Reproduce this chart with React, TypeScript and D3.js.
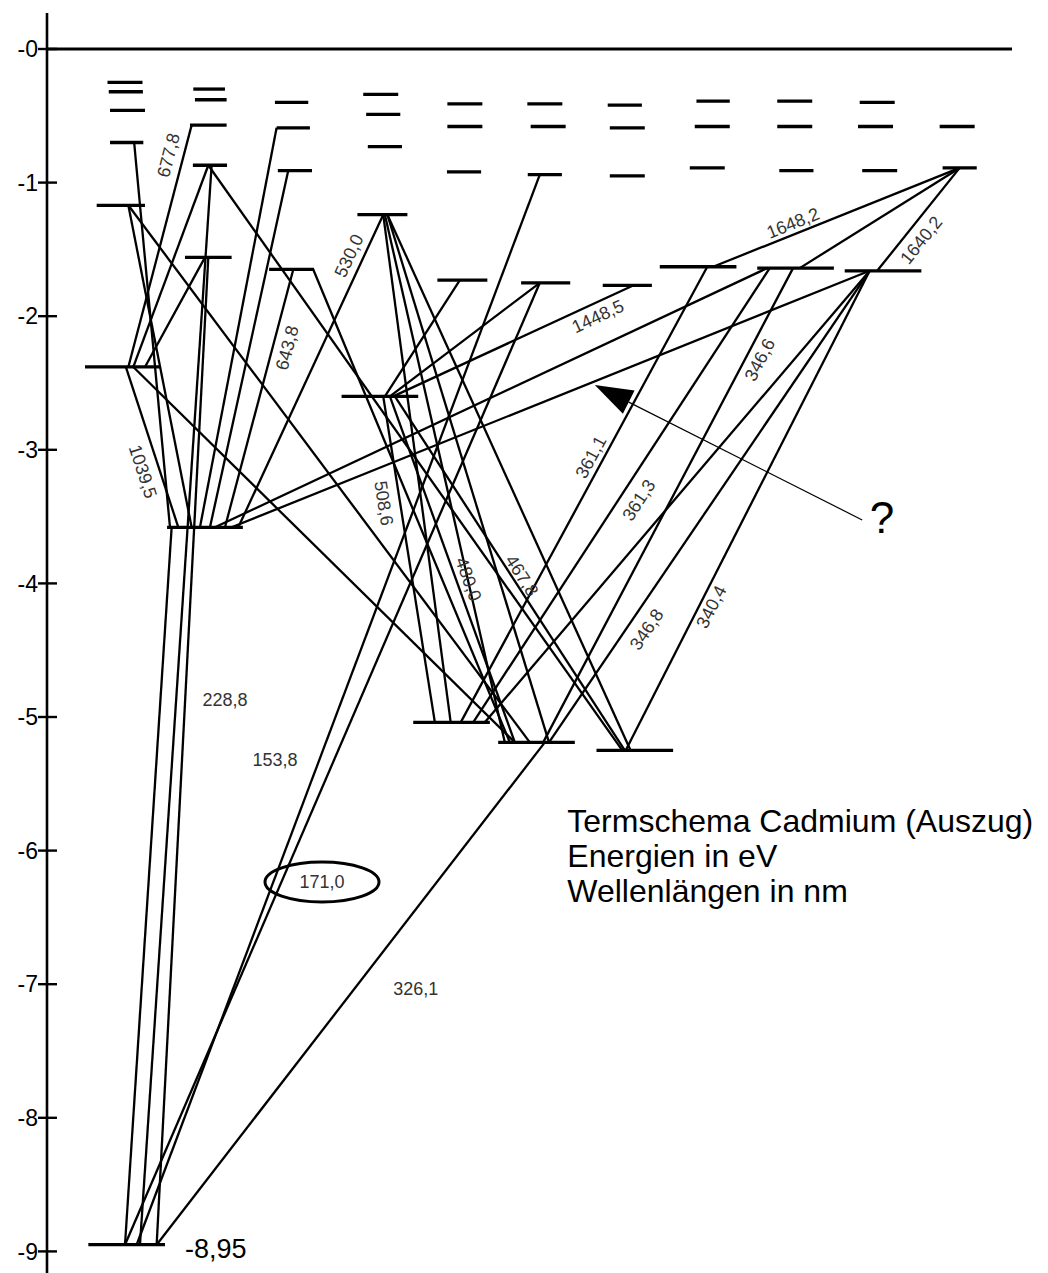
import React from 'react';
import * as d3 from 'd3';

// energy axis ticks
const tickValues = [0, -1, -2, -3, -4, -5, -6, -7, -8, -9];
const tickLabels = ['-0', '-1', '-2', '-3', '-4', '-5', '-6', '-7', '-8', '-9'];

// term levels: column position u (column units), width w (column units), energy e (eV)
const levels = [
  { id: 'a1', u: 0.0, w: 0.42, e: -0.25 },
  { id: 'a2', u: 0.01, w: 0.41, e: -0.32 },
  { id: 'a3', u: 0.03, w: 0.42, e: -0.46 },
  { id: 'a4', u: 0.02, w: 0.4, e: -0.7 },
  { id: 'a5', u: -0.05, w: 0.58, e: -1.17 },
  { id: 'a6', u: -0.03, w: 0.9, e: -2.38 },
  { id: 'b1', u: 1.01, w: 0.38, e: -0.3 },
  { id: 'b2', u: 1.03, w: 0.38, e: -0.38 },
  { id: 'b3', u: 1.0, w: 0.44, e: -0.57 },
  { id: 'b4', u: 1.02, w: 0.41, e: -0.87 },
  { id: 'b5', u: 1.0, w: 0.56, e: -1.56 },
  { id: 'b6', u: 0.96, w: 0.91, e: -3.58 },
  { id: 'c1', u: 2.0, w: 0.4, e: -0.4 },
  { id: 'c2', u: 2.02, w: 0.4, e: -0.59 },
  { id: 'c3', u: 2.04, w: 0.41, e: -0.91 },
  { id: 'c4', u: 2.0, w: 0.54, e: -1.65 },
  { id: 'd1', u: 3.07, w: 0.42, e: -0.34 },
  { id: 'd2', u: 3.1, w: 0.41, e: -0.49 },
  { id: 'd3', u: 3.12, w: 0.41, e: -0.73 },
  { id: 'd4', u: 3.09, w: 0.6, e: -1.24 },
  { id: 'd5', u: 3.06, w: 0.92, e: -2.6 },
  { id: 'e1', u: 4.08, w: 0.42, e: -0.41 },
  { id: 'e2', u: 4.08, w: 0.42, e: -0.58 },
  { id: 'e3', u: 4.07, w: 0.41, e: -0.92 },
  { id: 'e4', u: 4.05, w: 0.6, e: -1.73 },
  { id: 'e5', u: 3.92, w: 0.92, e: -5.04 },
  { id: 'f1', u: 5.04, w: 0.42, e: -0.41 },
  { id: 'f2', u: 5.08, w: 0.42, e: -0.58 },
  { id: 'f3', u: 5.04, w: 0.41, e: -0.94 },
  { id: 'f4', u: 5.05, w: 0.59, e: -1.75 },
  { id: 'f5', u: 4.94, w: 0.92, e: -5.19 },
  { id: 'g1', u: 6.0, w: 0.41, e: -0.42 },
  { id: 'g2', u: 6.03, w: 0.42, e: -0.59 },
  { id: 'g3', u: 6.03, w: 0.42, e: -0.95 },
  { id: 'g4', u: 6.03, w: 0.59, e: -1.77 },
  { id: 'g5', u: 6.12, w: 0.92, e: -5.25 },
  { id: 'h1', u: 7.06, w: 0.4, e: -0.39 },
  { id: 'h2', u: 7.05, w: 0.42, e: -0.58 },
  { id: 'h3', u: 6.99, w: 0.42, e: -0.89 },
  { id: 'h4', u: 6.88, w: 0.92, e: -1.63 },
  { id: 'i1', u: 8.04, w: 0.42, e: -0.39 },
  { id: 'i2', u: 8.04, w: 0.42, e: -0.58 },
  { id: 'i3', u: 8.06, w: 0.41, e: -0.91 },
  { id: 'i4', u: 8.05, w: 0.92, e: -1.64 },
  { id: 'j1', u: 9.03, w: 0.42, e: -0.4 },
  { id: 'j2', u: 9.01, w: 0.42, e: -0.58 },
  { id: 'j3', u: 9.06, w: 0.42, e: -0.91 },
  { id: 'j4', u: 9.1, w: 0.92, e: -1.66 },
  { id: 'k1', u: 9.99, w: 0.42, e: -0.58 },
  { id: 'k2', u: 10.02, w: 0.41, e: -0.89 },
  { id: 'g0', u: 0.02, w: 0.92, e: -8.95 },
];

// transitions: upper level, where the line leaves it (u1), lower level, where it lands (u2)
const transitions = [
  { id: 'l6778', from: 'b3', u1: 0.8, to: 'a6', u2: 0.04 },
  { id: 'b4a6', from: 'b4', u1: 1.0, to: 'a6', u2: 0.1 },
  { id: 'b5a6', from: 'b5', u1: 0.96, to: 'a6', u2: 0.24 },
  { id: 'l10395', from: 'a6', u1: 0.01, to: 'b6', u2: 0.64 },
  { id: 'a4b6', from: 'a4', u1: 0.11, to: 'b6', u2: 0.54 },
  { id: 'a5b6', from: 'a5', u1: 0.04, to: 'b6', u2: 0.8 },
  { id: 'c2b6', from: 'c2', u1: 1.82, to: 'b6', u2: 0.9 },
  { id: 'c3b6', from: 'c3', u1: 1.96, to: 'b6', u2: 1.02 },
  { id: 'l6438', from: 'c4', u1: 2.02, to: 'b6', u2: 1.2 },
  { id: 'l5300', from: 'd4', u1: 3.1, to: 'b6', u2: 1.36 },
  { id: 'i4b6', from: 'i4', u1: 7.71, to: 'b6', u2: 1.08 },
  { id: 'j4b6', from: 'j4', u1: 8.94, to: 'b6', u2: 1.28 },
  { id: 'l2288', from: 'b6', u1: 0.56, to: 'g0', u2: 0.0 },
  { id: 'b4g0', from: 'b4', u1: 1.04, to: 'g0', u2: 0.18 },
  { id: 'b5g0', from: 'b5', u1: 1.0, to: 'g0', u2: 0.38 },
  { id: 'l1538', from: 'f3', u1: 4.98, to: 'g0', u2: 0.14 },
  { id: 'l1710', from: 'f4', u1: 4.98, to: 'g0', u2: 0.0 },
  { id: 'l3261', from: 'f5', u1: 5.04, to: 'g0', u2: 0.38 },
  { id: 'e4d5', from: 'e4', u1: 4.02, to: 'd5', u2: 3.12 },
  { id: 'f4d5', from: 'f4', u1: 4.98, to: 'd5', u2: 3.18 },
  { id: 'l14485', from: 'g4', u1: 6.1, to: 'd5', u2: 3.22 },
  { id: 'l5086', from: 'd5', u1: 3.1, to: 'e5', u2: 3.72 },
  { id: 'l4800', from: 'd5', u1: 3.18, to: 'f5', u2: 4.68 },
  { id: 'l4678', from: 'd5', u1: 3.24, to: 'g5', u2: 6.0 },
  { id: 'd4e5', from: 'd4', u1: 3.1, to: 'e5', u2: 3.91 },
  { id: 'd4f5', from: 'd4', u1: 3.12, to: 'f5', u2: 4.56 },
  { id: 'd4f5b', from: 'd4', u1: 3.15, to: 'f5', u2: 5.09 },
  { id: 'd4g5', from: 'd4', u1: 3.15, to: 'g5', u2: 6.07 },
  { id: 'l3611', from: 'h4', u1: 6.99, to: 'e5', u2: 4.03 },
  { id: 'l3613', from: 'i4', u1: 7.74, to: 'e5', u2: 4.18 },
  { id: 'j4e5', from: 'j4', u1: 8.94, to: 'e5', u2: 4.32 },
  { id: 'l3466', from: 'i4', u1: 8.02, to: 'f5', u2: 5.02 },
  { id: 'l3468', from: 'j4', u1: 8.94, to: 'f5', u2: 5.09 },
  { id: 'l3404', from: 'j4', u1: 8.94, to: 'g5', u2: 6.01 },
  { id: 'l16482', from: 'k2', u1: 10.02, to: 'h4', u2: 7.06 },
  { id: 'k2i4', from: 'k2', u1: 10.02, to: 'i4', u2: 8.1 },
  { id: 'l16402', from: 'k2', u1: 10.02, to: 'j4', u2: 9.03 },
  { id: 'a5f5', from: 'a5', u1: 0.04, to: 'f5', u2: 4.86 },
  { id: 'a6f5', from: 'a6', u1: 0.1, to: 'f5', u2: 4.68 },
  { id: 'b4g5', from: 'b4', u1: 1.0, to: 'g5', u2: 5.97 },
  { id: 'c4f5', from: 'c4', u1: 2.26, to: 'f5', u2: 4.62 },
];

// wavelength labels written along a line: fraction t from the upper end, side offset in px
const lineLabels = [
  { line: 'l6778', text: '677,8', t: 0.14, off: -15 },
  { line: 'l10395', text: '1039,5', t: 0.62, off: 16 },
  { line: 'l6438', text: '643,8', t: 0.29, off: 14 },
  { line: 'l5300', text: '530,0', t: 0.15, off: -14 },
  { line: 'l5086', text: '508,6', t: 0.32, off: 16 },
  { line: 'l4800', text: '480,0', t: 0.54, off: -12 },
  { line: 'l4678', text: '467,8', t: 0.52, off: -9 },
  { line: 'l14485', text: '1448,5', t: 0.17, off: 13 },
  { line: 'l16482', text: '1648,2', t: 0.66, off: -11 },
  { line: 'l16402', text: '1640,2', t: 0.61, off: 15 },
  { line: 'l3611', text: '361,1', t: 0.43, off: -12 },
  { line: 'l3613', text: '361,3', t: 0.49, off: 17 },
  { line: 'l3466', text: '346,6', t: 0.18, off: 13 },
  { line: 'l3468', text: '346,8', t: 0.74, off: 17 },
  { line: 'l3404', text: '340,4', t: 0.69, off: 11 },
];

// horizontal wavelength labels (u, e)
const flatLabels = [
  { text: '228,8', u: 1.2, e: -4.873 },
  { text: '153,8', u: 1.8, e: -5.32 },
  { text: '171,0', u: 2.365, e: -6.235 },
  { text: '326,1', u: 3.49, e: -7.03 },
];

const captionLines = ['Termschema Cadmium (Auszug)', 'Energien in eV', 'Wellenlängen in nm'];
const caption = { u: 5.31, e: -5.86 };
const groundText = { text: '-8,95', u: 0.72, e: -8.975 };
const circled = { u: 2.365, e: -6.235 };
const arrowTip = { u: 5.64, e: -2.515 };
const arrowTail = { u: 8.85, e: -3.525 };
const question = { text: '?', u: 8.94, e: -3.62 };

const FONT = '"Liberation Sans", Arial, sans-serif';

export default function App() {
  const width = 1048;
  const height = 1273;
  const y = d3.scaleLinear().domain([0, -9]).range([49, 1251.4]);
  const x = d3.scaleLinear().domain([0, 10]).range([125, 958]);
  const px = (w: number) => x(w) - x(0);
  const axisX = 47;

  const byId = new Map(levels.map((l) => [l.id, l]));
  const geo = new Map(
    transitions.map((t) => {
      const a = byId.get(t.from)!;
      const b = byId.get(t.to)!;
      return [t.id, { x1: x(t.u1), y1: y(a.e), x2: x(t.u2), y2: y(b.e) }];
    })
  );

  const tip = [x(arrowTip.u), y(arrowTip.e)];
  const tail = [x(arrowTail.u), y(arrowTail.e)];
  const dl = Math.hypot(tip[0] - tail[0], tip[1] - tail[1]);
  const dir = [(tip[0] - tail[0]) / dl, (tip[1] - tail[1]) / dl];
  const headL = 38;
  const headW = 13;
  const base = [tip[0] - dir[0] * headL, tip[1] - dir[1] * headL];
  const head = [
    tip,
    [base[0] - dir[1] * headW, base[1] + dir[0] * headW],
    [base[0] + dir[1] * headW, base[1] - dir[0] * headW],
  ];

  return (
    <svg
      width={width}
      height={height}
      style={{ position: 'absolute', left: 0, top: 0, background: '#fff' }}
      fontFamily={FONT}
    >
      <rect width={width} height={height} fill="#fff" />
      {/* axis */}
      <line x1={axisX} x2={axisX} y1={13} y2={height} stroke="#000" strokeWidth={2.6} />
      {tickValues.map((v, i) => (
        <g key={v}>
          <line x1={38} x2={57} y1={y(v)} y2={y(v)} stroke="#000" strokeWidth={2.4} />
          <text x={38} y={y(v)} dy="0.36em" textAnchor="end" fontSize={23} fill="#000">
            {tickLabels[i]}
          </text>
        </g>
      ))}
      <line x1={axisX} x2={1012} y1={y(0)} y2={y(0)} stroke="#000" strokeWidth={3} />

      {/* transitions */}
      {transitions.map((t) => {
        const g = geo.get(t.id)!;
        return (
          <line key={t.id} x1={g.x1} y1={g.y1} x2={g.x2} y2={g.y2} stroke="#000" strokeWidth={2.3} />
        );
      })}

      {/* levels */}
      {levels.map((l) => (
        <line
          key={l.id}
          x1={x(l.u) - px(l.w) / 2}
          x2={x(l.u) + px(l.w) / 2}
          y1={y(l.e)}
          y2={y(l.e)}
          stroke="#000"
          strokeWidth={3.3}
        />
      ))}

      {/* labels along lines */}
      {lineLabels.map((lb) => {
        const g = geo.get(lb.line)!;
        const dx = g.x2 - g.x1;
        const dy = g.y2 - g.y1;
        let ang = (Math.atan2(dy, dx) * 180) / Math.PI;
        if (ang > 90) ang -= 180;
        if (ang < -90) ang += 180;
        const r = (ang * Math.PI) / 180;
        const nx = -Math.sin(r);
        const ny = Math.cos(r);
        const cx = g.x1 + dx * lb.t + nx * lb.off;
        const cy = g.y1 + dy * lb.t + ny * lb.off;
        return (
          <text
            key={lb.text}
            x={0}
            y={0}
            dy="0.35em"
            transform={`translate(${cx},${cy}) rotate(${ang})`}
            textAnchor="middle"
            fontSize={18}
            fill="#333"
          >
            {lb.text}
          </text>
        );
      })}
      {flatLabels.map((lb) => (
        <text key={lb.text} x={x(lb.u)} y={y(lb.e)} dy="0.35em" textAnchor="middle" fontSize={18} fill="#333">
          {lb.text}
        </text>
      ))}
      <ellipse cx={x(circled.u)} cy={y(circled.e)} rx={57} ry={20} fill="none" stroke="#000" strokeWidth={3} />

      {/* ground energy */}
      <text x={x(groundText.u)} y={y(groundText.e)} dy="0.36em" fontSize={27} fill="#000">
        {groundText.text}
      </text>

      {/* caption */}
      {captionLines.map((c, i) => (
        <text key={c} x={x(caption.u)} y={y(caption.e) + i * 35} fontSize={32} fill="#000">
          {c}
        </text>
      ))}

      {/* question arrow */}
      <line x1={tail[0]} y1={tail[1]} x2={base[0]} y2={base[1]} stroke="#000" strokeWidth={1.2} />
      <polygon points={head.map((p) => p.join(',')).join(' ')} fill="#000" />
      <text x={x(question.u)} y={y(question.e)} fontSize={44} fill="#000">
        {question.text}
      </text>
    </svg>
  );
}
